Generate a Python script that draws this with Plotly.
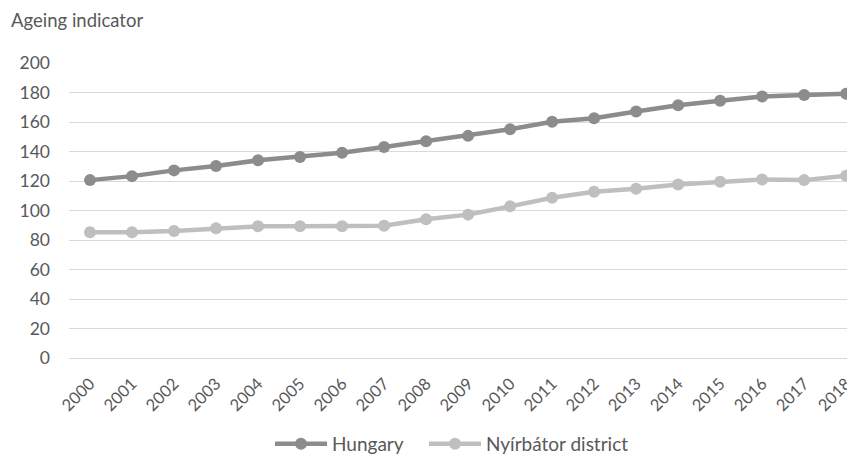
import plotly.graph_objects as go

years = [str(y) for y in range(2000, 2019)]
hungary = [120.6, 123.3, 127.2, 130.1, 134.0, 136.3, 139.2, 143.1, 147.0, 150.6,
           155.1, 160.1, 162.6, 167.1, 171.4, 174.4, 177.3, 178.3, 179.2]
nyirbator = [85.2, 85.2, 86.1, 88.0, 89.3, 89.3, 89.3, 89.6, 94.1, 97.2,
             102.8, 108.6, 112.7, 114.7, 117.7, 119.5, 121.0, 120.6, 123.6]
y_ticks = list(range(0, 201, 20))

FONT = "Lato, Carlito, Calibri, sans-serif"
TEXT = "#595959"

fig = go.Figure()
fig.add_trace(go.Scatter(
    x=years, y=hungary, name="Hungary", mode="lines+markers",
    line=dict(color="#8c8c8c", width=4.5),
    marker=dict(color="#8c8c8c", size=12),
    legend="legend",
))
fig.add_trace(go.Scatter(
    x=years, y=nyirbator, name="Nyírbátor district", mode="lines+markers",
    line=dict(color="#bfbfbf", width=4.5),
    marker=dict(color="#bfbfbf", size=12),
    legend="legend2",
))

legend_style = dict(
    orientation="h", xref="container", yref="container",
    y=0.0, xanchor="left", yanchor="bottom",
    font=dict(family=FONT, color=TEXT, size=19),
    itemwidth=52, bgcolor="rgba(0,0,0,0)",
)

fig.update_layout(
    width=847, height=463,
    margin=dict(l=69, r=0, t=63, b=105),
    paper_bgcolor="white", plot_bgcolor="white",
    font=dict(family=FONT, color=TEXT, size=17),
    showlegend=True,
    legend=dict(x=270 / 847, **legend_style),
    legend2=dict(x=424 / 847, **legend_style),
    annotations=[dict(
        text="Ageing indicator", xref="paper", yref="paper",
        x=-60 / 778, y=1 + (63 - 20) / 295, xanchor="left", yanchor="middle",
        showarrow=False, font=dict(family=FONT, color=TEXT, size=18.5),
    )],
)

fig.update_xaxes(
    type="category", range=[-0.5, 18.02],
    tickangle=-45, showgrid=False, zeroline=False, showline=False,
    ticks="", ticklabelstandoff=12, automargin=False,
    tickfont=dict(family=FONT, color=TEXT, size=16.5),
)
fig.update_yaxes(
    range=[0, 200], tickvals=y_ticks,
    showgrid=True, gridcolor="#d9d9d9", gridwidth=1,
    zeroline=True, zerolinecolor="#d9d9d9", zerolinewidth=1,
    showline=False, ticks="", ticklabelstandoff=18, automargin=False,
    tickfont=dict(family=FONT, color=TEXT, size=17.5),
)

fig.write_html("out.html")
